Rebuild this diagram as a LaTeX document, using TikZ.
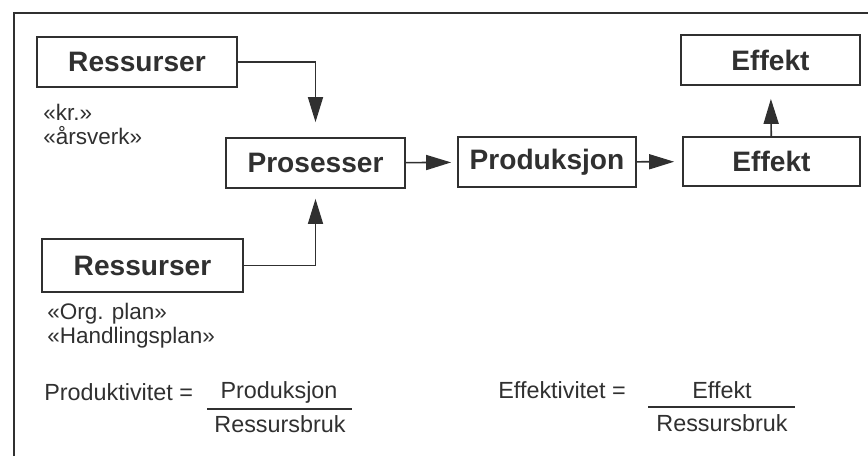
\documentclass[tikz,border=0pt]{standalone}
\usepackage{fontspec}
\setmainfont{Liberation Sans}
\usetikzlibrary{arrows.meta}
\definecolor{ink}{HTML}{303030}

\begin{document}
\begin{tikzpicture}[x=0.02cm, y=-0.02cm,
    box/.style={draw=ink, line width=1pt, rectangle, minimum height=1cm, inner sep=0pt,
        text=ink, font=\fontsize{16}{19}\selectfont\bfseries},
    arrow/.style={draw=ink, line width=0.9pt, -{Triangle[length=0.5cm, width=0.3cm]}},
    note/.style={text=ink, align=left, inner sep=0pt, font=\fontsize{12.8}{13.6}\selectfont},
    formula/.style={text=ink, inner sep=0pt, font=\fontsize{13.3}{15}\selectfont}
]
\useasboundingbox (0,0) rectangle (868,456);
% frame
\draw[ink, line width=1pt] (14,456) -- (14,13) -- (868,13);

% boxes
\node[box, minimum width=4cm] (res1) at (137,62) {Ressurser};
\node[box, minimum width=3.58cm] (pros) at (315.5,163) {Prosesser};
\node[box, minimum width=3.56cm] (prod) at (547,162) {Produksjon};
\node[box, minimum width=3.54cm, minimum height=0.98cm] (eff1) at (771.5,161.5) {Effekt};
\node[box, minimum width=3.58cm] (eff2) at (770.5,60) {Effekt};
\node[box, minimum width=4.02cm, minimum height=1.06cm] (res2) at (142.5,265.5) {Ressurser};

% notes
\node[note, anchor=north west] (unit1) at (43,104) {«kr.»\\«årsverk»};
\node[note, anchor=north west] (unit2) at (47,303) {«Org. plan»\\«Handlingsplan»};

% arrows
\draw[arrow, shorten >=0.3cm] (res1.east) -| (pros.north);
\draw[arrow, shorten >=0.2cm] (res2.east) -| (pros.south);
\draw[arrow, shorten >=0.12cm] (pros) -- (prod);
\draw[arrow, shorten >=0.16cm] (prod) -- (eff1);
\draw[arrow, shorten >=0.26cm] (eff1) -- (eff2);

% formulas
\node[formula, anchor=west] (prodlabel) at (44,392) {Produktivitet =};
\node[formula] (prodnum) at (279,392) {Produksjon};
\node[formula] (prodden) at (280,424) {Ressursbruk};
\draw[ink, line width=1pt] (207,409) -- (352,409);

\node[formula, anchor=west] (efflabel) at (498,390) {Effektivitet =};
\node[formula] (effnum) at (722,390) {Effekt};
\node[formula] (effden) at (722,423) {Ressursbruk};
\draw[ink, line width=1pt] (648,407) -- (795,407);
\end{tikzpicture}
\end{document}
